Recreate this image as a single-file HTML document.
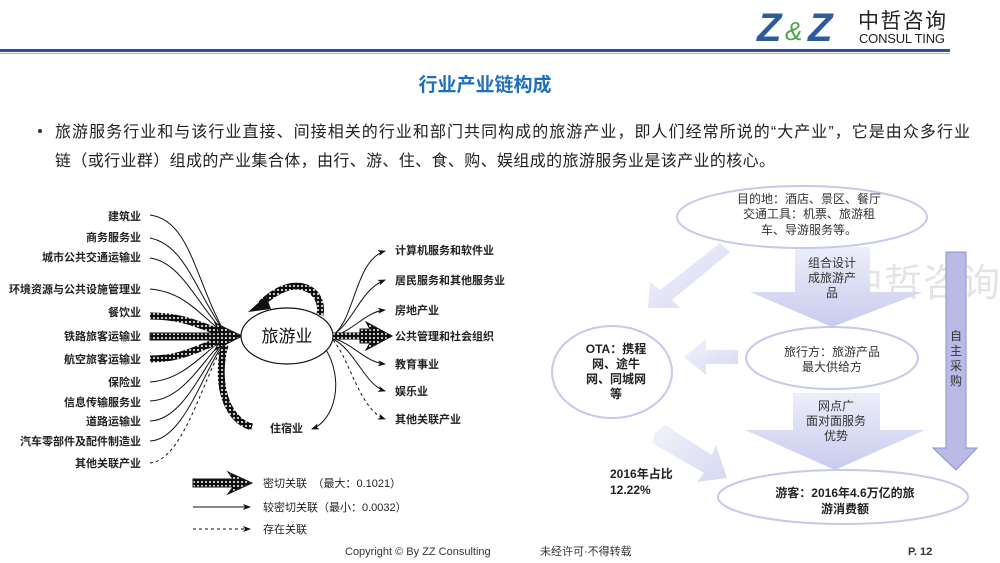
<!DOCTYPE html>
<html><head><meta charset="utf-8"><style>
html,body{margin:0;padding:0;background:#fff;}
svg{display:block;}
text{font-family:"Liberation Sans","Noto Sans CJK SC",sans-serif;}
.s{font-family:"Liberation Serif","Noto Serif CJK SC",serif;font-size:11px;font-weight:bold;fill:#222;}
</style></head><body>
<svg width="1000" height="563" viewBox="0 0 1000 563" xmlns="http://www.w3.org/2000/svg">
<defs>
<marker id="ah" markerWidth="8" markerHeight="8" refX="7" refY="4" orient="auto" markerUnits="userSpaceOnUse"><path d="M0,1 L8,4 L0,7 L2,4z" fill="#111"/></marker>
<pattern id="dots" width="4" height="4" patternUnits="userSpaceOnUse"><rect width="4" height="4" fill="#111"/><circle cx="2" cy="2" r="1" fill="#fff"/></pattern>
<linearGradient id="lg" x1="0" y1="0" x2="0" y2="1"><stop offset="0" stop-color="#eceef9"/><stop offset="1" stop-color="#c9cbee"/></linearGradient>
<linearGradient id="lg2" x1="0" y1="0" x2="1" y2="1"><stop offset="0" stop-color="#f2f3fb"/><stop offset="1" stop-color="#d6d8f2"/></linearGradient>
</defs>
<text x="757" y="41" font-family="Liberation Serif,serif" font-size="40" font-weight="bold" fill="#2e5b9c" font-style="italic">Z</text>
<text x="785" y="40" font-family="Liberation Serif,serif" font-size="26" fill="#4aa34a" font-style="italic">&amp;</text>
<text x="808" y="41" font-family="Liberation Serif,serif" font-size="40" font-weight="bold" fill="#2e5b9c" font-style="italic">Z</text>
<text x="858" y="28" font-size="21" fill="#222" textLength="88">中哲咨询</text>
<text x="859" y="43" font-size="13" fill="#222" textLength="86">CONSUL TING</text>
<rect x="0" y="49" width="950" height="3" fill="#2f4f9e"/>
<rect x="0" y="53" width="950" height="1" fill="#9fb0d8"/>
<text x="485" y="91" font-size="19" font-weight="bold" fill="#1f6fbf" text-anchor="middle">行业产业链构成</text>
<circle cx="40" cy="131" r="2" fill="#333"/>
<text x="55" y="137" font-size="16" fill="#222" textLength="915">旅游服务行业和与该行业直接、间接相关的行业和部门共同构成的旅游产业，即人们经常所说的“大产业”，它是由众多行业</text>
<text x="55" y="166" font-size="16" fill="#222" textLength="720">链（或行业群）组成的产业集合体，由行、游、住、食、购、娱组成的旅游服务业是该产业的核心。</text>
<g class="s" text-anchor="end">
<text x="141" y="220">建筑业</text><text x="141" y="241">商务服务业</text><text x="141" y="261">城市公共交通运输业</text>
<text x="141" y="293">环境资源与公共设施管理业</text><text x="141" y="316">餐饮业</text><text x="141" y="340">铁路旅客运输业</text>
<text x="141" y="363">航空旅客运输业</text><text x="141" y="386">保险业</text><text x="141" y="406">信息传输服务业</text>
<text x="141" y="425">道路运输业</text><text x="141" y="445">汽车零部件及配件制造业</text><text x="141" y="467">其他关联产业</text>
</g>
<g class="s">
<text x="395" y="254">计算机服务和软件业</text><text x="395" y="284">居民服务和其他服务业</text><text x="395" y="314">房地产业</text>
<text x="395" y="340">公共管理和社会组织</text><text x="395" y="368">教育事业</text><text x="395" y="395">娱乐业</text><text x="395" y="423">其他关联产业</text>
<text x="270" y="432">住宿业</text>
<text x="263" y="487" font-weight="normal">密切关联　（最大：0.1021）</text>
<text x="263" y="511" font-weight="normal">较密切关联（最小：0.0032）</text>
<text x="263" y="533" font-weight="normal">存在关联</text>
</g>
<g fill="none" stroke="#111" stroke-width="1">
<path d="M150,215 C190,220 195,280 225,333"/>
<path d="M150,238 C185,245 195,290 225,333"/>
<path d="M150,258 C180,262 195,300 225,334"/>
<path d="M150,289 C185,292 200,315 226,335"/>
<path d="M150,382 C185,380 205,350 226,338"/>
<path d="M150,401 C185,400 205,355 226,339"/>
<path d="M150,421 C185,420 205,360 226,340"/>
<path d="M150,441 C185,440 205,365 226,341"/>
<path d="M150,463 C185,460 205,370 226,342" stroke-dasharray="3,3"/>
<path d="M333,335 C355,320 355,260 385,251" marker-end="url(#ah)"/>
<path d="M333,335 C355,320 360,290 385,280" marker-end="url(#ah)"/>
<path d="M333,336 C355,330 365,312 385,310" marker-end="url(#ah)"/>
<path d="M333,338 C355,345 365,362 385,364" marker-end="url(#ah)"/>
<path d="M333,339 C355,350 365,385 385,391" marker-end="url(#ah)"/>
<path d="M333,340 C350,360 360,410 385,419" marker-end="url(#ah)" stroke-dasharray="3,3"/>
<path d="M325,348 C345,380 335,420 312,429" marker-end="url(#ah)"/>
</g>
<g fill="none" stroke="url(#dots)" stroke-width="7">
<path d="M150,316 C185,316 200,326 225,334"/>
<path d="M150,359 C185,359 200,346 225,339"/>
<path d="M252,427 C225,420 215,380 225,345"/>
<path d="M320,315 C325,290 295,270 260,305"/>
<path d="M333,336 L370,336"/>
</g>
<path d="M150,333 L220,333 L215,323 L242,336 L215,350 L220,340 L150,340z" fill="url(#dots)" stroke="#111" stroke-width="1"/>
<path d="M360,329 L370,329 L366,322 L392,336 L366,350 L370,343 L360,343z" fill="url(#dots)" stroke="#111"/>
<path d="M266,296 L248,312 L271,309z" fill="#111"/>
<ellipse cx="287" cy="336" rx="46" ry="28" fill="#fff" stroke="#111" stroke-width="1.2"/>
<text x="287" y="342" font-family="Liberation Serif,'Noto Serif CJK SC',serif" font-size="17" fill="#111" text-anchor="middle">旅游业</text>
<path d="M193,479 L233,479 L228,472 L252,483 L228,494 L233,487 L193,487z" fill="url(#dots)" stroke="#111"/>
<line x1="193" y1="507" x2="250" y2="507" stroke="#111" marker-end="url(#ah)"/>
<line x1="193" y1="529" x2="250" y2="529" stroke="#111" stroke-dasharray="3,3" marker-end="url(#ah)"/>
<text x="845" y="296" font-size="38" fill="#e4e4e4" textLength="155">中哲咨询</text>
<path d="M795,247 L870,247 L870,292 L923,292 L832,327 L750,292 L795,292z" fill="url(#lg)"/>
<path d="M793,393 L880,393 L880,430 L925,430 L835,470 L745,430 L793,430z" fill="url(#lg)"/>
<path d="M946,252 L966,252 L966,448 L977,448 L956,470 L933,448 L946,448z" fill="#b9bbe6" stroke="#8d90cc"/>
<path d="M720,243 L730,252 L672,300 L680,308 L648,308 L650,282 L660,290z" fill="url(#lg2)"/>
<path d="M738,350 L738,364 L706,364 L706,375 L684,357 L706,339 L706,350z" fill="url(#lg2)"/>
<path d="M655,433 L665,425 L712,455 L716,445 L727,478 L697,482 L704,473 L652,443z" fill="url(#lg2)"/>
<ellipse cx="802" cy="217" rx="125" ry="31" fill="#fff" stroke="#c6c8ec" stroke-width="2"/>
<ellipse cx="832" cy="358" rx="86" ry="31" fill="#fff" stroke="#c6c8ec" stroke-width="2"/>
<ellipse cx="843" cy="497" rx="125" ry="27" fill="#fff" stroke="#c6c8ec" stroke-width="2"/>
<ellipse cx="612" cy="372" rx="60" ry="46" fill="#fff" stroke="#c6c8ec" stroke-width="2"/>
<g font-size="12" fill="#333" text-anchor="middle">
<text x="809" y="203">目的地：酒店、景区、餐厅</text>
<text x="809" y="218">交通工具：机票、旅游租</text>
<text x="809" y="234">车、导游服务等。</text>
<text x="832" y="267">组合设计</text><text x="832" y="282">成旅游产</text><text x="832" y="297">品</text>
<text x="832" y="356">旅行方：旅游产品</text><text x="832" y="371">最大供给方</text>
<text x="836" y="410">网点广</text><text x="836" y="425">面对面服务</text><text x="836" y="440">优势</text>
<text x="956" y="340">自</text><text x="956" y="355">主</text><text x="956" y="370">采</text><text x="956" y="385">购</text>
</g>
<g font-size="12" font-weight="bold" fill="#222" text-anchor="middle">
<text x="616" y="353">OTA：携程</text><text x="616" y="368">网、途牛</text><text x="616" y="383">网、同城网</text><text x="616" y="398">等</text>
<text x="845" y="497">游客：2016年4.6万亿的旅</text><text x="845" y="513">游消费额</text>
</g>
<text x="610" y="478" font-size="12" font-weight="bold" fill="#222">2016年占比</text>
<text x="610" y="494" font-size="12" font-weight="bold" fill="#222">12.22%</text>
<text x="345" y="555" font-size="11" fill="#333">Copyright © By  ZZ Consulting</text>
<text x="540" y="555" font-size="11" fill="#333">未经许可·不得转载</text>
<text x="908" y="555" font-size="11" font-weight="bold" fill="#333" font-family="Liberation Serif,serif">P. 12</text>
</svg>
</body></html>
